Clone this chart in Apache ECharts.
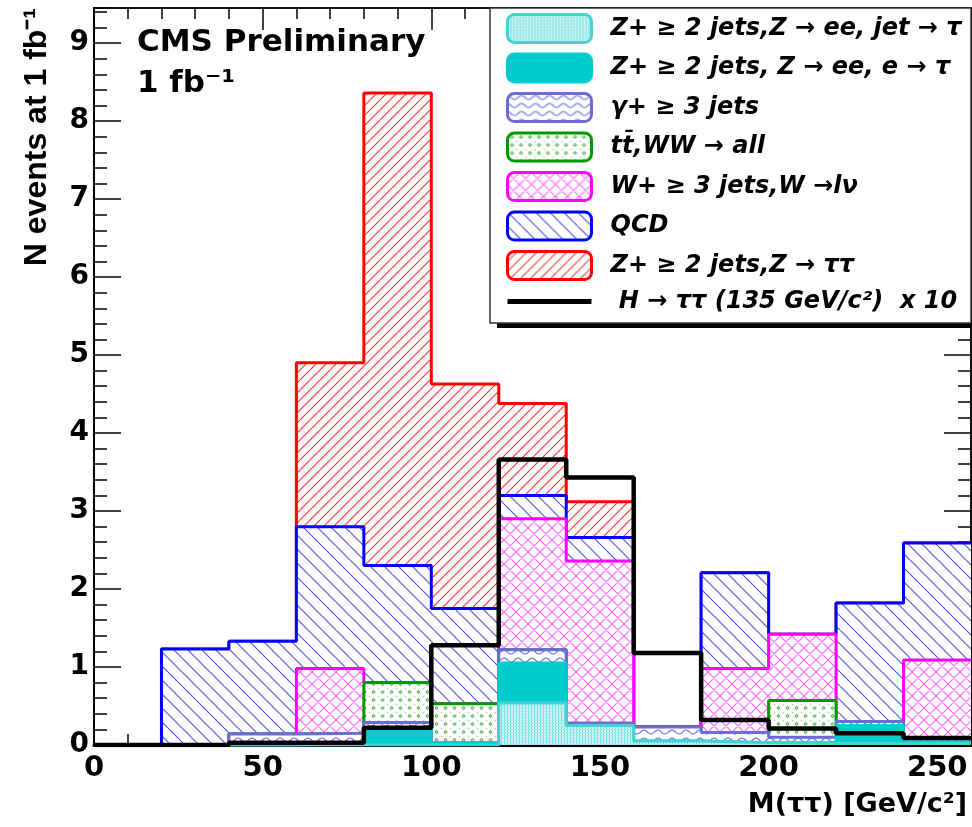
<!DOCTYPE html>
<html>
<head>
<meta charset="utf-8">
<title>M(tautau) stacked backgrounds</title>
<script src="https://cdn.jsdelivr.net/npm/echarts@6.0.0/dist/echarts.min.js"></script>
<style>
  html, body { margin: 0; padding: 0; background: #fff; }
  #chart { width: 972px; height: 827px; }
</style>
</head>
<body>
<div id="chart"></div>
<script>
// bin edges, GeV/c^2 (13 bins of 20)
var binEdges = [0, 20, 40, 60, 80, 100, 120, 140, 160, 180, 200, 220, 240, 260];

// events per bin at 1 fb-1 (stack order: bottom first)
var zJetFake  = [0, 0, 0, 0,    0,    0,    0.54, 0.25, 0.05, 0.03, 0.02, 0.02, 0.02];
var zEleFake  = [0, 0, 0, 0.02, 0.19, 0.02, 0.51, 0,    0,    0,    0.01, 0.23, 0.02];
var gammaJets = [0, 0, 0.14, 0.13, 0.10, 0.01, 0.17, 0.03, 0.18, 0.13, 0.07, 0.05, 0.04];
var ttWW      = [0, 0, 0,    0,    0.51, 0.50, 0,    0,    0,    0,    0.47, 0,    0];
var wJets     = [0, 0, 0,    0.83, 0,    0,    1.68, 2.08, 0,    0.82, 0.85, 0,    1.01];
var qcd       = [0, 1.23, 1.19, 1.82, 1.50, 1.22, 0.30, 0.30, 0, 1.23, 0,    1.52, 1.50];
var zTauTau   = [0, 0, 0,    2.10, 6.06, 2.88, 1.18, 0.46, 0,    0,    0,    0,    0];
var higgsX10  = [0, 0, 0.03, 0.03, 0.22, 1.28, 3.66, 3.43, 1.18, 0.32, 0.21, 0.15, 0.09];

var legendNames = [
  'Z+ \u2265 2 jets,Z \u2192 ee, jet \u2192 \u03c4',
  'Z+ \u2265 2 jets, Z \u2192 ee, e \u2192 \u03c4',
  '\u03b3+ \u2265 3 jets',
  'tt\u0304,WW \u2192 all',
  'W+ \u2265 3 jets,W \u2192l\u03bd',
  'QCD',
  'Z+ \u2265 2 jets,Z \u2192 \u03c4\u03c4',
  ' H \u2192 \u03c4\u03c4 (135 GeV/c\u00b2)  x 10'
];

// turn bin contents into points for a step line
function toSteps(vals) {
  return binEdges.map(function (x, i) {
    return [x, vals[Math.min(i, vals.length - 1)]];
  });
}

function tile(w, h, bg, draw) {
  var c = document.createElement('canvas');
  c.width = w;
  c.height = h;
  var ctx = c.getContext('2d');
  ctx.fillStyle = bg;
  ctx.fillRect(0, 0, w, h);
  draw(ctx);
  return { image: c, repeat: 'repeat' };
}

var patRed = tile(10, 10, '#fff', function (ctx) {
  ctx.strokeStyle = '#ff3030';
  ctx.lineWidth = 1.1;
  ctx.beginPath();
  [-10, 0, 10].forEach(function (k) { ctx.moveTo(k, 10); ctx.lineTo(k + 10, 0); });
  ctx.stroke();
});
var patBlue = tile(14, 14, '#fff', function (ctx) {
  ctx.strokeStyle = '#5555f0';
  ctx.lineWidth = 1.2;
  ctx.beginPath();
  [-14, 0, 14].forEach(function (k) { ctx.moveTo(k, 0); ctx.lineTo(k + 14, 14); });
  ctx.stroke();
});
var patMag = tile(12, 12, '#fff', function (ctx) {
  ctx.strokeStyle = '#ff66ff';
  ctx.lineWidth = 1.2;
  ctx.beginPath();
  [-12, 0, 12].forEach(function (k) {
    ctx.moveTo(k, 0); ctx.lineTo(k + 12, 12);
    ctx.moveTo(k, 12); ctx.lineTo(k + 12, 0);
  });
  ctx.stroke();
});
var patGreen = tile(9, 8, '#fff', function (ctx) {
  ctx.fillStyle = '#5fb85f';
  ctx.beginPath();
  ctx.moveTo(4.5, 1.8); ctx.lineTo(6.7, 4); ctx.lineTo(4.5, 6.2); ctx.lineTo(2.3, 4);
  ctx.closePath();
  ctx.fill();
  ctx.fillStyle = '#ffffff';
  ctx.fillRect(4, 3.5, 1, 1);
  ctx.fillStyle = '#8fd08f';
  ctx.fillRect(0, 0, 1.2, 1.2);
});
var patWave = tile(14, 8, '#fff', function (ctx) {
  ctx.strokeStyle = '#7373dc';
  ctx.lineWidth = 1.2;
  ctx.beginPath();
  for (var x = 0; x <= 14; x += 0.5) {
    var y = 4 - 2 * Math.cos(2 * Math.PI * x / 14);
    if (x === 0) ctx.moveTo(x, y); else ctx.lineTo(x, y);
  }
  ctx.stroke();
});
var patCyanDots = tile(3, 3, '#d4f5f5', function (ctx) {
  ctx.fillStyle = '#6fdcdc';
  ctx.fillRect(0, 0, 1, 3);
  ctx.fillStyle = '#a0eaea';
  ctx.fillRect(0, 0, 3, 1);
});

var bkg = [
  { vals: zJetFake,  fill: patCyanDots, line: '#44d2d2' },
  { vals: zEleFake,  fill: '#00cccc',   line: '#00cccc' },
  { vals: gammaJets, fill: patWave,     line: '#6c6cd8' },
  { vals: ttWW,      fill: patGreen,    line: '#009900' },
  { vals: wJets,     fill: patMag,      line: '#ff00ff' },
  { vals: qcd,       fill: patBlue,     line: '#0000ff' },
  { vals: zTauTau,   fill: patRed,      line: '#ff0000' }
];

// like THStack: each histogram is the running sum, tallest drawn first,
// the lower ones painted over it
var running = binEdges.slice(1).map(function () { return 0; });
var series = bkg.map(function (b, i) {
  running = running.map(function (s, j) { return s + b.vals[j]; });
  return {
    name: legendNames[i],
    type: 'line',
    step: 'end',
    symbol: 'none',
    z: 9 - i,
    lineStyle: { color: b.line, width: 3 },
    itemStyle: { color: b.line },
    areaStyle: { color: b.fill, opacity: 1, origin: 'start' },
    data: toSteps(running)
  };
});
series.push({
  name: legendNames[7],
  type: 'line',
  step: 'end',
  symbol: 'none',
  z: 10,
  lineStyle: { color: '#000', width: 4.5 },
  itemStyle: { color: '#000' },
  data: toSteps(higgsX10)
});

var legendData = bkg.map(function (b, i) {
  return {
    name: legendNames[i],
    icon: 'roundRect',
    itemStyle: { color: b.fill, borderColor: b.line, borderWidth: 3 }
  };
});
legendData.push({
  name: legendNames[7],
  icon: 'path://M0,0H85V5H0Z',
  itemStyle: { color: '#000', borderWidth: 0 }
});

var numFont = { fontFamily: 'DejaVu Sans', fontWeight: 'bold', color: '#000' };

function xAxisCfg(pos, interval, tickLen, main) {
  return {
    type: 'value', position: pos, min: 0, max: 260, interval: interval,
    axisLine: { show: main, onZero: false, lineStyle: { color: '#000', width: pos === 'bottom' ? 3 : 1.5 } },
    axisTick: { show: true, inside: true, length: tickLen, lineStyle: { color: '#000', width: 1.5 } },
    axisLabel: main && pos === 'bottom'
      ? Object.assign({ show: true, margin: 9, fontSize: 29, showMaxLabel: false }, numFont)
      : { show: false },
    splitLine: { show: false }
  };
}
function yAxisCfg(pos, interval, tickLen, main) {
  return {
    type: 'value', position: pos, min: 0, max: 9.45, interval: interval,
    axisLine: { show: main, onZero: false, lineStyle: { color: '#000', width: pos === 'left' ? 2 : 1.5 } },
    axisTick: { show: true, inside: true, length: tickLen, lineStyle: { color: '#000', width: 1.5 } },
    axisLabel: main && pos === 'left'
      ? Object.assign({ show: true, margin: 5, fontSize: 28, showMaxLabel: false }, numFont)
      : { show: false },
    splitLine: { show: false }
  };
}

var xMain = xAxisCfg('bottom', 50, 22, true);
xMain.name = 'M(\u03c4\u03c4) [GeV/c\u00b2]';
xMain.nameLocation = 'end';
xMain.nameGap = -4;
xMain.nameTextStyle = {
  fontFamily: 'DejaVu Sans', fontWeight: 'bold', fontSize: 27, color: '#000',
  align: 'right', verticalAlign: 'top', padding: [46, 0, 0, 0]
};

var chart = echarts.init(document.getElementById('chart'));
chart.setOption({
  animation: false,
  backgroundColor: '#fff',
  grid: {
    left: 94, right: 1, top: 8, bottom: 82,
    containLabel: false, outerBoundsMode: 'none',
    show: true, borderColor: '#000', borderWidth: 1.5
  },
  xAxis: [
    xMain,
    xAxisCfg('bottom', 10, 11, false),
    xAxisCfg('top', 50, 22, true),
    xAxisCfg('top', 10, 11, false)
  ],
  yAxis: [
    yAxisCfg('left', 1, 27, true),
    yAxisCfg('left', 0.2, 13, false),
    yAxisCfg('right', 1, 27, true),
    yAxisCfg('right', 0.2, 13, false)
  ],
  legend: {
    orient: 'vertical',
    left: 490, top: 8,
    padding: [5, 0, 0, 16],
    itemWidth: 84, itemHeight: 28, itemGap: 8.5,
    selectedMode: false,
    z: 21,
    textStyle: {
      fontFamily: 'DejaVu Sans', fontStyle: 'italic', fontWeight: 'bold',
      fontSize: 24, color: '#000', padding: [0, 0, 0, 14]
    },
    data: legendData
  },
  graphic: [
    { type: 'rect', z: 19, shape: { x: 497, y: 12, width: 481, height: 316 }, style: { fill: '#000' } },
    { type: 'rect', z: 20, shape: { x: 490, y: 8, width: 481, height: 315 },
      style: { fill: '#fff', stroke: '#333', lineWidth: 1.5 } },
    { type: 'text', z: 20, x: 137, y: 43,
      style: { text: 'CMS Preliminary', font: 'bold 31px "DejaVu Sans"', fill: '#000', verticalAlign: 'middle' } },
    { type: 'text', z: 20, x: 137, y: 84,
      style: { text: '1 fb\u207b\u00b9', font: 'bold 31px "DejaVu Sans"', fill: '#000', verticalAlign: 'middle' } },
    { type: 'text', z: 20, x: 37, y: 8, rotation: Math.PI / 2,
      style: { text: 'N events at 1 fb\u207b\u00b9', font: 'bold 32px "Liberation Sans"', fill: '#000',
               align: 'right', verticalAlign: 'middle' } }
  ],
  series: series
});
</script>
</body>
</html>
